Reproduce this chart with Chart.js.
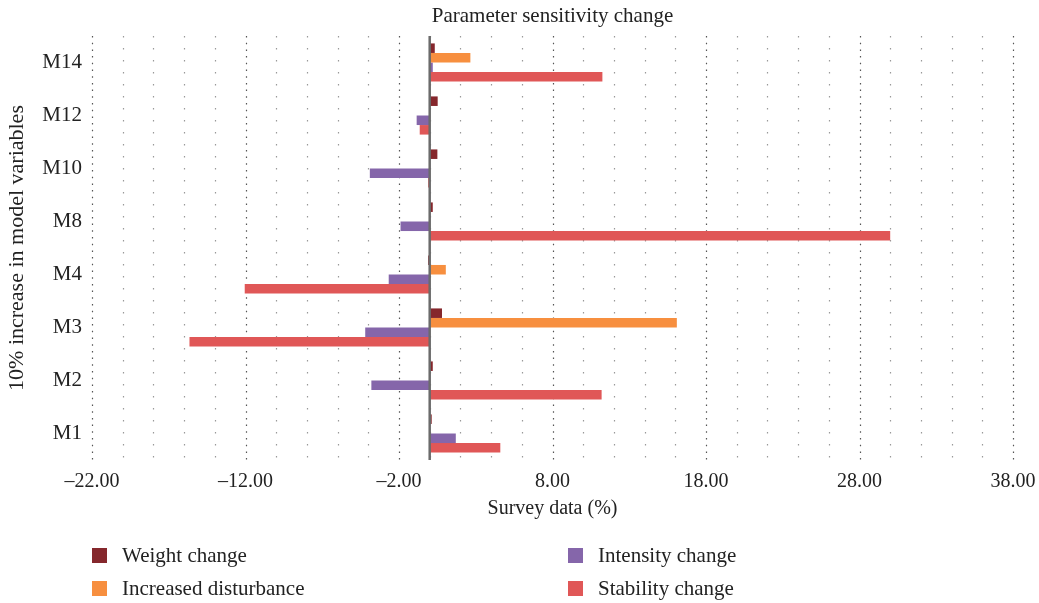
<!DOCTYPE html>
<html>
<head>
<meta charset="utf-8">
<script src="https://cdn.jsdelivr.net/npm/chart.js@4/dist/chart.umd.min.js"></script>
<style>
  body { margin: 0; background: #fff; }
  #wrap { position: relative; width: 1039px; height: 603px; }
  #legend { position: absolute; left: 0; top: 0; width: 100%; height: 100%; pointer-events: none;
            font-family: "Liberation Serif", serif; font-size: 21px; color: #222; }
  .item { position: absolute; display: flex; align-items: center; white-space: nowrap; }
  .box { width: 15px; height: 15px; margin-right: 15px; }
</style>
</head>
<body>
<div id="wrap">
  <canvas id="chart"></canvas>
  <div id="legend"></div>
</div>
<script>
const categories = ['M14', 'M12', 'M10', 'M8', 'M4', 'M3', 'M2', 'M1'];
const weightChange = [0.33, 0.52, 0.5, 0.2, -0.1, 0.8, 0.2, 0.13];
const increasedDisturbance = [2.65, 0, 0, 0, 1.05, 16.1, 0, 0];
const intensityChange = [0.2, -0.85, -3.9, -1.9, -2.67, -4.2, -3.8, 1.7];
const stabilityChange = [11.25, -0.65, -0.1, 30.0, -12.05, -15.65, 11.2, 4.6];
const xTicks = [-22, -12, -2, 8, 18, 28, 38];

const serif = '"Liberation Serif", serif';

// dotted vertical grid: minor every 2, major every 10 (starting at -22)
const dotGrid = {
    id: 'dotGrid',
    beforeDatasetsDraw(chart) {
        const x = chart.scales.x;
        const area = chart.chartArea;
        const ctx = chart.ctx;
        ctx.save();
        for (let v = xTicks[0]; v <= xTicks[xTicks.length - 1]; v += 2) {
            const major = xTicks.includes(v);
            const px = Math.round(x.getPixelForValue(v)) + 0.5;
            ctx.beginPath();
            ctx.strokeStyle = major ? '#555' : '#999';
            ctx.lineWidth = 1.2;
            ctx.setLineDash(major ? [1.5, 5.2] : [1.5, 10.5]);
            ctx.moveTo(px, area.top);
            ctx.lineTo(px, area.bottom);
            ctx.stroke();
        }
        ctx.restore();
    },
    afterDatasetsDraw(chart) {
        const x = chart.scales.x;
        const area = chart.chartArea;
        const ctx = chart.ctx;
        const px = x.getPixelForValue(0);
        ctx.save();
        ctx.strokeStyle = '#6b6b6b';
        ctx.lineWidth = 2.5;
        ctx.beginPath();
        ctx.moveTo(px, area.top);
        ctx.lineTo(px, area.bottom);
        ctx.stroke();
        ctx.restore();
    }
};

const ctx = document.getElementById('chart').getContext('2d');
const chart = new Chart(ctx, {
    type: 'bar',
    data: {
        labels: categories,
        datasets: [
            { label: 'Weight change', data: weightChange, backgroundColor: '#85272c' },
            { label: 'Increased disturbance', data: increasedDisturbance, backgroundColor: '#f78f3f' },
            { label: 'Intensity change', data: intensityChange, backgroundColor: '#8566aa' },
            { label: 'Stability change', data: stabilityChange, backgroundColor: '#e05757' }
        ]
    },
    options: {
        indexAxis: 'y',
        responsive: true,
        maintainAspectRatio: false,
        animation: false,
        datasets: {
            bar: {
                categoryPercentage: 0.72,
                barPercentage: 1.0,
                borderWidth: 0
            }
        },
        layout: {
            padding: { left: 0, right: 0, top: 0, bottom: 78 }
        },
        plugins: {
            legend: { display: false },
            tooltip: { enabled: false }
        },
        scales: {
            x: {
                type: 'linear',
                min: -22,
                max: 38,
                afterBuildTicks: function (axis) {
                    axis.ticks = xTicks.map(v => ({ value: v }));
                },
                afterFit: function (axis) {
                    axis.height = 65;
                    axis.paddingRight = 26;
                },
                grid: { display: false, drawTicks: false },
                border: { display: false },
                ticks: {
                    color: '#222',
                    padding: 10,
                    font: { family: serif, size: 20 },
                    callback: function (value) {
                        return value.toFixed(2).replace('-', '\u2013');
                    }
                },
                title: {
                    display: true,
                    text: 'Survey data (%)',
                    color: '#222',
                    font: { family: serif, size: 20 },
                    padding: { top: 4, bottom: 4 }
                }
            },
            // top axis only carries the chart title so it centres over the plot
            top: {
                type: 'linear',
                position: 'top',
                min: -22,
                max: 38,
                afterFit: function (axis) {
                    axis.height = 36;
                },
                grid: { display: false, drawTicks: false },
                border: { display: false },
                ticks: { display: false },
                title: {
                    display: true,
                    text: 'Parameter sensitivity change',
                    color: '#222',
                    font: { family: serif, size: 21 },
                    padding: { top: 4, bottom: 0 }
                }
            },
            y: {
                afterFit: function (axis) {
                    axis.width = 92;
                },
                grid: { display: false, drawTicks: false },
                border: { display: false },
                ticks: {
                    color: '#222',
                    padding: 10,
                    font: { family: serif, size: 21 }
                },
                title: {
                    display: true,
                    text: '10% increase in model variables',
                    color: '#222',
                    font: { family: serif, size: 22 },
                    padding: { top: 4, bottom: 0 }
                }
            }
        }
    },
    plugins: [dotGrid]
});

// two-column legend under the chart
const legendEl = document.getElementById('legend');
const legendPos = [
    { left: 92, top: 555 },
    { left: 92, top: 588 },
    { left: 568, top: 555 },
    { left: 568, top: 588 }
];
chart.data.datasets.forEach((ds, i) => {
    const item = document.createElement('div');
    item.className = 'item';
    item.style.left = legendPos[i].left + 'px';
    item.style.top = (legendPos[i].top - 12) + 'px';
    item.style.height = '24px';
    const box = document.createElement('span');
    box.className = 'box';
    box.style.background = ds.backgroundColor;
    const txt = document.createElement('span');
    txt.textContent = ds.label;
    item.appendChild(box);
    item.appendChild(txt);
    legendEl.appendChild(item);
});
</script>
</body>
</html>
